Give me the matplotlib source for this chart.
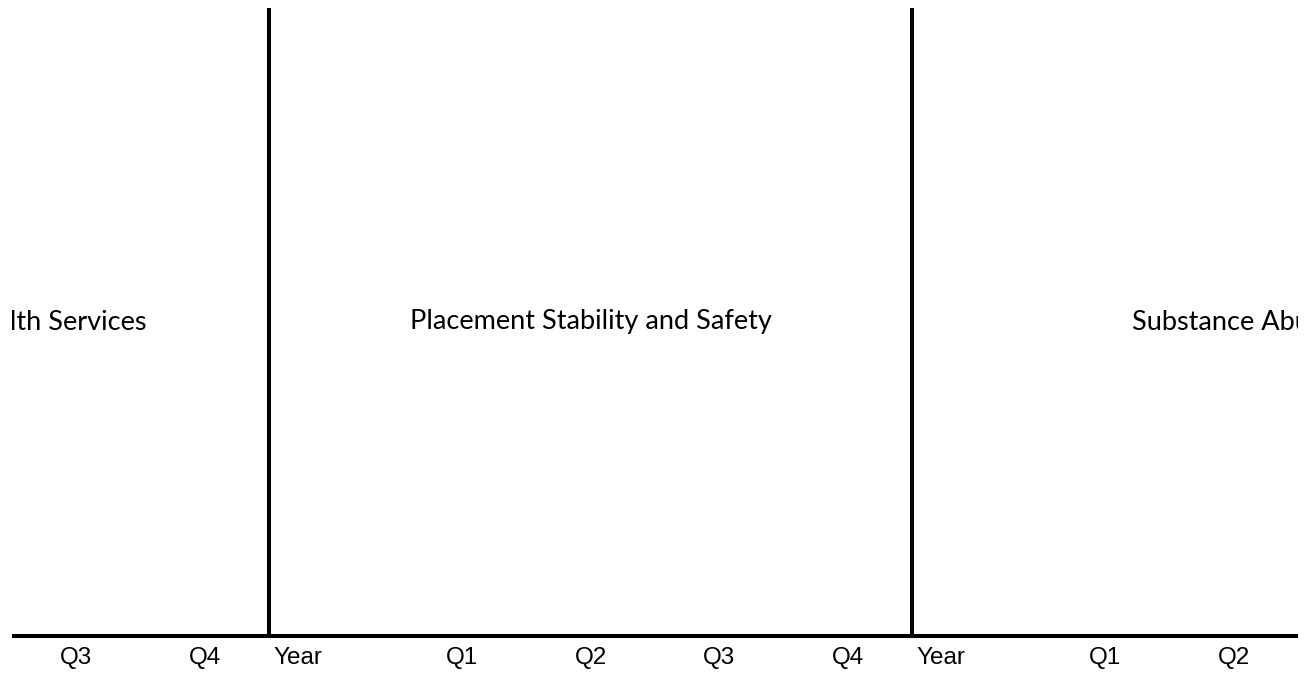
import matplotlib
matplotlib.use("Agg")
import matplotlib.pyplot as plt

plt.rcParams['font.family'] = ['Lato', 'DejaVu Sans']

# Groups of the table header, each one spans five columns
groups = ["Access to Mental Health Services",
          "Placement Stability and Safety",
          "Substance Abuse"]
columns = ["Year", "Q1", "Q2", "Q3", "Q4"]

fig = plt.figure(figsize=(13.08, 6.73), dpi=100)
ax = fig.add_axes([12 / 1308, 0, 1286 / 1308, 665 / 673])
ax.set_xlim(-2, 8)
ax.set_ylim(0, 1)
ax.axis('off')

base = 37 / 665   # height of the baseline rule
label_y = 9 / 665
lw = 2.9
label_font = dict(family=['Liberation Sans', 'DejaVu Sans'], fontsize=17.5)

# Baseline rule
ax.axhline(base, color='black', lw=lw, solid_capstyle='butt')

for g, name in enumerate(groups):
    start = (g - 1) * len(columns)
    # group separator
    if g > 0:
        ax.axvline(start, ymin=base, ymax=1, color='black', lw=lw,
                   solid_capstyle='butt')
    # group title
    ax.text(start + len(columns) / 2, (1 + base) / 2, name,
            ha='center', va='center', fontsize=19.5, clip_on=True)
    # column labels
    for i, col in enumerate(columns):
        if col == "Year":
            ax.text(start + 0.03, label_y, col, ha='left', va='baseline',
                    clip_on=True, **label_font)
        else:
            ax.text(start + i + 0.5, label_y, col, ha='center',
                    va='baseline', clip_on=True, **label_font)

fig.savefig("out.png", dpi=100)
